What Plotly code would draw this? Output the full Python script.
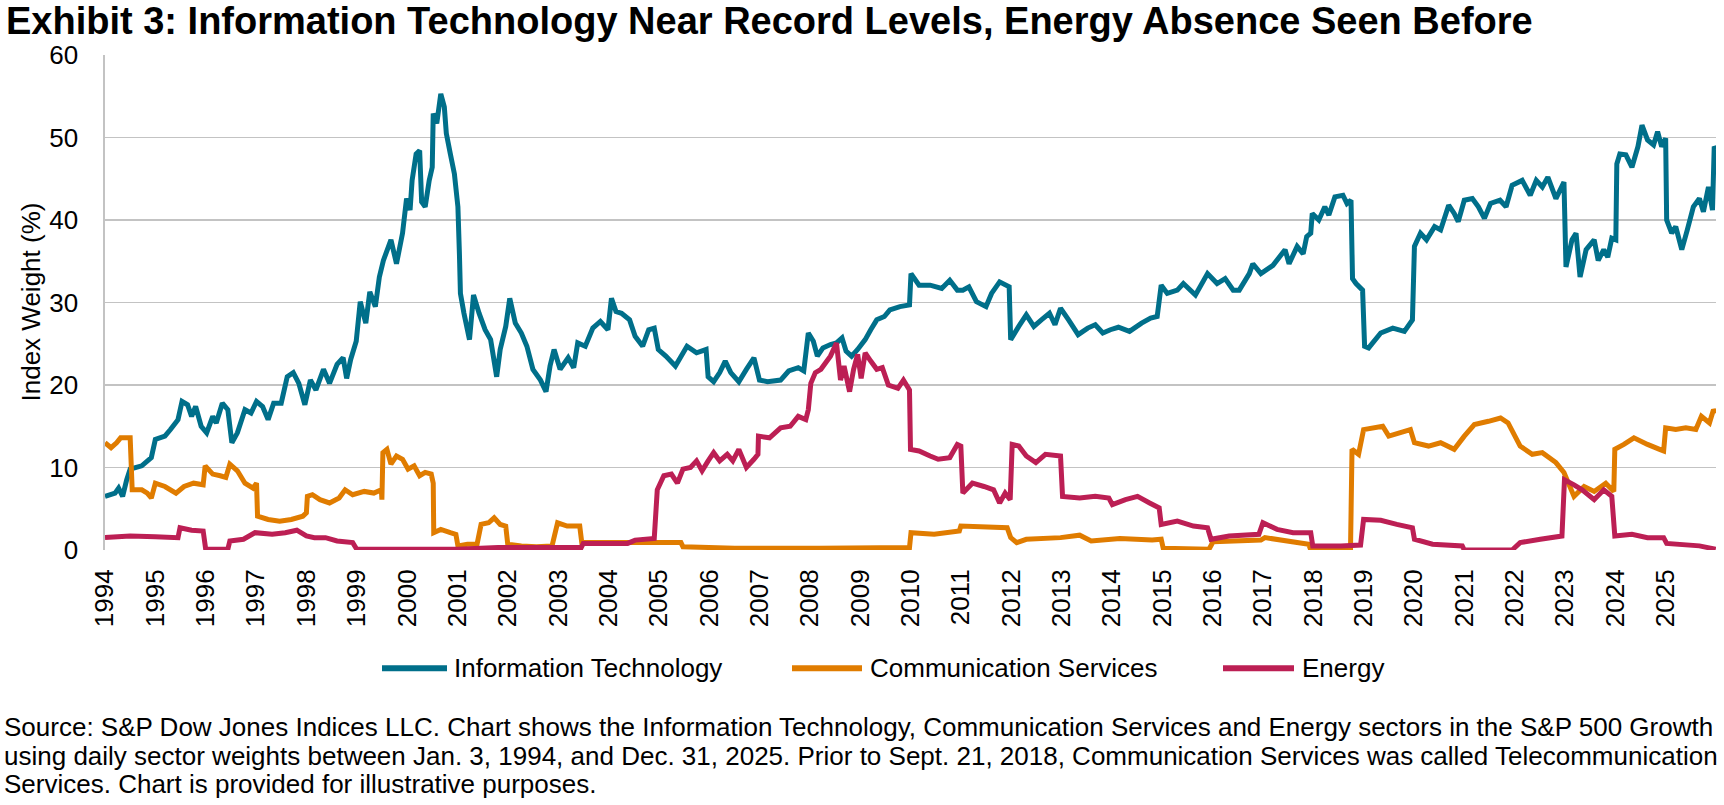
import plotly.graph_objects as go

# ---- data (decimal year, index weight %) ----
it_x = [1994.00, 1994.20, 1994.27, 1994.35, 1994.43, 1994.50, 1994.73, 1994.92, 1995.00, 1995.19,
        1995.30, 1995.45, 1995.53, 1995.64, 1995.72, 1995.80, 1995.91, 1996.02, 1996.14, 1996.21,
        1996.33, 1996.44, 1996.52, 1996.63, 1996.78, 1996.90, 1997.01, 1997.13, 1997.24, 1997.35,
        1997.50, 1997.62, 1997.74, 1997.85, 1997.97, 1998.08, 1998.19, 1998.34, 1998.46, 1998.61,
        1998.73, 1998.80, 1998.88, 1998.99, 1999.07, 1999.18, 1999.26, 1999.37, 1999.45, 1999.53,
        1999.68, 1999.79, 1999.91, 1999.99, 2000.06, 2000.10, 2000.18, 2000.25, 2000.29, 2000.36,
        2000.44, 2000.50, 2000.52, 2000.59, 2000.67, 2000.74, 2000.78, 2000.86, 2000.94, 2001.01,
        2001.04, 2001.06, 2001.13, 2001.24, 2001.32, 2001.43, 2001.55, 2001.66, 2001.78, 2001.85,
        2001.96, 2002.04, 2002.15, 2002.27, 2002.38, 2002.50, 2002.65, 2002.76, 2002.84, 2002.92,
        2003.04, 2003.20, 2003.31, 2003.39, 2003.54, 2003.69, 2003.84, 2003.99, 2004.06, 2004.15,
        2004.26, 2004.42, 2004.53, 2004.68, 2004.80, 2004.91, 2004.99, 2005.14, 2005.33, 2005.56,
        2005.75, 2005.94, 2005.98, 2006.09, 2006.21, 2006.32, 2006.43, 2006.59, 2006.74, 2006.89,
        2007.00, 2007.16, 2007.42, 2007.58, 2007.77, 2007.88, 2007.97, 2008.07, 2008.15, 2008.26,
        2008.41, 2008.53, 2008.64, 2008.72, 2008.83, 2008.95, 2009.10, 2009.21, 2009.33, 2009.48,
        2009.59, 2009.79, 2009.98, 2010.01, 2010.17, 2010.39, 2010.62, 2010.78, 2010.93, 2011.04,
        2011.16, 2011.31, 2011.50, 2011.61, 2011.77, 2011.96, 2011.99, 2012.15, 2012.30, 2012.45,
        2012.60, 2012.76, 2012.87, 2012.98, 2013.14, 2013.33, 2013.52, 2013.67, 2013.82, 2013.97,
        2014.13, 2014.35, 2014.59, 2014.77, 2014.90, 2014.98, 2015.10, 2015.30, 2015.42, 2015.66,
        2015.90, 2016.09, 2016.25, 2016.41, 2016.53, 2016.73, 2016.80, 2016.96, 2017.20, 2017.44,
        2017.52, 2017.68, 2017.80, 2017.87, 2017.95, 2017.98, 2018.11, 2018.23, 2018.31, 2018.43,
        2018.59, 2018.67, 2018.75, 2018.78, 2018.85, 2018.98, 2019.02, 2019.10, 2019.34, 2019.58,
        2019.81, 2019.97, 2020.01, 2020.13, 2020.25, 2020.41, 2020.53, 2020.69, 2020.80, 2020.88,
        2021.00, 2021.16, 2021.28, 2021.40, 2021.52, 2021.71, 2021.83, 2021.95, 2022.15, 2022.31,
        2022.43, 2022.55, 2022.66, 2022.82, 2022.98, 2023.02, 2023.14, 2023.22, 2023.30, 2023.42,
        2023.58, 2023.66, 2023.77, 2023.85, 2023.93, 2024.01, 2024.03, 2024.09, 2024.21, 2024.33,
        2024.45, 2024.53, 2024.64, 2024.76, 2024.84, 2024.92, 2025.00, 2025.02, 2025.12, 2025.20,
        2025.32, 2025.43, 2025.55, 2025.67, 2025.75, 2025.85, 2025.93, 2025.965, 2025.995]
it_y = [6.5, 6.9, 7.5, 6.5, 8.5, 9.8, 10.2, 11.2, 13.4, 13.8,
        14.6, 15.8, 18.0, 17.6, 16.2, 17.4, 15.0, 14.2, 16.2, 15.4,
        17.8, 17.0, 13.0, 14.2, 17.0, 16.6, 18.0, 17.4, 15.8, 17.8,
        17.8, 21.0, 21.5, 20.2, 17.6, 20.6, 19.4, 21.9, 20.2, 22.5,
        23.3, 20.8, 23.1, 25.3, 30.1, 27.5, 31.3, 29.5, 33.1, 35.1,
        37.6, 34.7, 38.4, 42.6, 41.2, 44.8, 48.0, 48.4, 42.2, 41.6,
        44.8, 46.4, 52.9, 51.7, 55.3, 53.7, 50.5, 48.0, 45.6, 41.6,
        35.9, 31.1, 28.7, 25.5, 30.9, 28.7, 26.7, 25.5, 21.0, 24.3,
        27.1, 30.5, 27.5, 26.3, 24.7, 21.9, 20.6, 19.2, 22.3, 24.3,
        21.9, 23.3, 22.1, 25.1, 24.7, 26.9, 27.7, 26.7, 30.5, 28.9,
        28.7, 27.9, 25.9, 24.7, 26.7, 26.9, 24.3, 23.5, 22.3, 24.7,
        23.9, 24.3, 21.0, 20.4, 21.5, 22.9, 21.5, 20.4, 21.9, 23.3,
        20.6, 20.4, 20.6, 21.7, 22.1, 21.7, 26.3, 25.3, 23.5, 24.5,
        24.9, 25.1, 25.7, 24.1, 23.5, 24.3, 25.5, 26.7, 27.9, 28.3,
        29.1, 29.5, 29.7, 33.5, 32.1, 32.1, 31.7, 32.7, 31.5, 31.5,
        31.9, 30.1, 29.5, 31.1, 32.5, 31.9, 25.5, 27.1, 28.5, 27.1,
        27.9, 28.7, 27.3, 29.3, 27.9, 26.1, 26.9, 27.3, 26.3, 26.7,
        27.0, 26.5, 27.5, 28.1, 28.3, 32.1, 31.1, 31.5, 32.3, 30.9,
        33.5, 32.3, 32.9, 31.5, 31.5, 33.5, 34.7, 33.5, 34.5, 36.4,
        34.7, 36.8, 35.9, 38.0, 38.4, 40.8, 40.0, 41.6, 40.6, 42.8,
        43.0, 42.0, 42.4, 32.9, 32.3, 31.5, 24.7, 24.5, 26.3, 26.9,
        26.5, 27.9, 36.8, 38.4, 37.6, 39.2, 38.8, 41.8, 40.8, 39.8,
        42.4, 42.6, 41.6, 40.2, 42.0, 42.4, 41.6, 44.2, 44.8, 43.0,
        44.8, 44.0, 45.2, 42.6, 44.6, 34.3, 37.6, 38.4, 33.1, 36.4,
        37.6, 35.1, 36.4, 35.5, 37.8, 37.6, 46.8, 48.0, 47.9, 46.4,
        48.9, 51.5, 49.7, 49.1, 50.7, 48.9, 49.9, 40.0, 38.4, 39.2,
        36.4, 38.8, 41.6, 42.6, 41.0, 44.0, 41.2, 48.9, 48.6]

cs_x = [1994.00, 1994.12, 1994.23, 1994.31, 1994.50, 1994.54, 1994.73, 1994.84, 1994.92, 1995.00,
        1995.19, 1995.41, 1995.57, 1995.76, 1995.95, 1995.99, 1996.14, 1996.29, 1996.40, 1996.48,
        1996.63, 1996.78, 1996.94, 1997.01, 1997.03, 1997.24, 1997.47, 1997.70, 1997.93, 1998.00,
        1998.02, 1998.12, 1998.27, 1998.46, 1998.65, 1998.77, 1998.92, 1999.15, 1999.34, 1999.49,
        1999.50, 1999.52, 1999.60, 1999.68, 1999.79, 1999.91, 2000.02, 2000.14, 2000.25, 2000.36,
        2000.48, 2000.52, 2000.53, 2000.67, 2000.86, 2000.97, 2001.01, 2001.20, 2001.39, 2001.47,
        2001.62, 2001.73, 2001.85, 2001.96, 2002.00, 2002.27, 2002.57, 2002.88, 2002.99, 2003.18,
        2003.43, 2003.47, 2004.38, 2004.91, 2005.44, 2005.48, 2006.51, 2008.19, 2009.98, 2010.01,
        2010.47, 2010.97, 2011.00, 2011.92, 2011.99, 2012.11, 2012.30, 2012.98, 2013.36, 2013.59,
        2014.16, 2014.80, 2014.98, 2015.02, 2015.93, 2016.01, 2016.96, 2017.04, 2017.91, 2017.95,
        2018.74, 2018.77, 2018.90, 2019.00, 2019.38, 2019.50, 2019.93, 2020.01, 2020.29, 2020.53,
        2020.80, 2021.00, 2021.20, 2021.48, 2021.72, 2021.87, 2022.11, 2022.35, 2022.55, 2022.82,
        2022.98, 2023.18, 2023.38, 2023.58, 2023.81, 2023.97, 2023.99, 2024.17, 2024.37, 2024.64,
        2024.88, 2024.96, 2025.00, 2025.20, 2025.40, 2025.60, 2025.71, 2025.87, 2025.95, 2025.995]
cs_y = [13.0, 12.4, 13.0, 13.6, 13.6, 7.3, 7.3, 6.9, 6.3, 8.1,
        7.7, 6.9, 7.7, 8.1, 7.9, 10.2, 9.2, 9.0, 8.8, 10.4,
        9.6, 8.1, 7.5, 8.1, 4.1, 3.7, 3.5, 3.7, 4.1, 4.5,
        6.5, 6.7, 6.1, 5.7, 6.3, 7.3, 6.7, 7.1, 6.9, 7.3,
        6.1, 11.8, 12.2, 10.4, 11.4, 11.0, 9.8, 10.2, 9.0, 9.4,
        9.2, 8.1, 2.1, 2.5, 2.1, 1.9, 0.5, 0.7, 0.7, 3.1,
        3.3, 3.9, 3.1, 2.9, 0.7, 0.5, 0.4, 0.5, 3.3, 2.9,
        2.9, 0.9, 0.9, 0.9, 0.9, 0.4, 0.2, 0.2, 0.3, 2.1,
        1.9, 2.3, 2.9, 2.7, 1.5, 0.9, 1.3, 1.5, 1.8, 1.1,
        1.4, 1.2, 1.3, 0.2, 0.1, 1.0, 1.2, 1.5, 0.7, 0.0,
        0.0, 12.2, 11.6, 14.6, 15.0, 13.8, 14.6, 13.0, 12.6, 13.0,
        12.2, 13.8, 15.2, 15.6, 16.0, 15.4, 12.6, 11.6, 11.8, 10.6,
        9.4, 6.5, 7.7, 7.1, 8.1, 7.1, 12.2, 12.8, 13.6, 12.8,
        12.2, 12.0, 14.8, 14.6, 14.8, 14.6, 16.2, 15.4, 17.0, 16.6]

en_x = [1994.00, 1994.50, 1995.00, 1995.45, 1995.49, 1995.72, 1995.95, 1996.00, 1996.44, 1996.48,
        1996.75, 1996.98, 1997.32, 1997.58, 1997.81, 1998.00, 1998.16, 1998.38, 1998.61, 1998.92,
        1999.00, 2001.00, 2001.81, 2002.95, 2003.46, 2003.50, 2004.38, 2004.53, 2004.91, 2004.97,
        2005.10, 2005.25, 2005.37, 2005.48, 2005.63, 2005.75, 2005.86, 2005.98, 2006.09, 2006.21,
        2006.36, 2006.47, 2006.59, 2006.74, 2006.89, 2006.97, 2006.98, 2007.20, 2007.42, 2007.61,
        2007.77, 2007.92, 2007.97, 2008.02, 2008.11, 2008.22, 2008.34, 2008.41, 2008.53, 2008.61,
        2008.68, 2008.79, 2008.87, 2008.95, 2009.02, 2009.10, 2009.21, 2009.33, 2009.44, 2009.56,
        2009.75, 2009.86, 2009.98, 2010.00, 2010.17, 2010.39, 2010.55, 2010.78, 2010.93, 2011.00,
        2011.04, 2011.23, 2011.46, 2011.65, 2011.77, 2011.88, 2011.98, 2012.02, 2012.15, 2012.30,
        2012.49, 2012.68, 2012.98, 2013.02, 2013.36, 2013.67, 2013.94, 2014.01, 2014.27, 2014.51,
        2014.75, 2014.94, 2014.98, 2015.30, 2015.62, 2015.90, 2015.97, 2016.33, 2016.92, 2017.00,
        2017.28, 2017.60, 2017.95, 2017.99, 2018.55, 2018.94, 2019.00, 2019.34, 2019.66, 2019.97,
        2020.01, 2020.37, 2020.96, 2021.00, 2021.95, 2022.11, 2022.51, 2022.94, 2022.99, 2023.18,
        2023.34, 2023.58, 2023.77, 2023.93, 2023.99, 2024.33, 2024.64, 2024.96, 2025.02, 2025.67,
        2025.995]
en_y = [1.5, 1.7, 1.6, 1.5, 2.7, 2.4, 2.3, 0.1, 0.1, 1.1,
        1.3, 2.1, 1.9, 2.1, 2.4, 1.7, 1.5, 1.5, 1.1, 0.9,
        0.1, 0.1, 0.3, 0.3, 0.3, 0.8, 0.8, 1.2, 1.4, 7.3,
        9.0, 9.2, 8.1, 9.8, 10.0, 10.8, 9.6, 10.8, 11.8, 10.8,
        11.6, 10.8, 12.2, 10.0, 11.0, 11.6, 13.8, 13.6, 14.8, 15.0,
        16.2, 15.8, 17.0, 20.2, 21.5, 21.9, 22.9, 23.5, 25.1, 20.6,
        22.3, 19.2, 21.9, 23.7, 20.8, 23.9, 22.9, 21.9, 22.1, 20.0,
        19.6, 20.6, 19.4, 12.2, 12.0, 11.4, 11.0, 11.2, 12.8, 12.6,
        6.9, 8.1, 7.7, 7.3, 5.7, 6.9, 6.1, 12.8, 12.6, 11.4,
        10.6, 11.6, 11.4, 6.5, 6.3, 6.5, 6.3, 5.5, 6.1, 6.5,
        5.7, 5.1, 3.1, 3.5, 2.9, 2.7, 1.3, 1.7, 1.9, 3.3,
        2.5, 2.1, 2.1, 0.5, 0.5, 0.6, 3.7, 3.6, 3.1, 2.7,
        1.3, 0.7, 0.5, 0.0, 0.0, 0.9, 1.3, 1.7, 8.5, 7.9,
        7.3, 6.1, 7.3, 6.5, 1.7, 1.9, 1.5, 1.5, 0.8, 0.5,
        0.1]

series_names = ["Information Technology", "Communication Services", "Energy"]
series_colors = ["#006F8A", "#E07C00", "#BC1F54"]
year_ticks = list(range(1994, 2026))
year_labels = [str(y) for y in year_ticks]
y_ticks = [0, 10, 20, 30, 40, 50, 60]

title_text = "Exhibit 3: Information Technology Near Record Levels, Energy Absence Seen Before"
y_title = "Index Weight (%)"
source_lines = [
    "Source: S&P Dow Jones Indices LLC. Chart shows the Information Technology, Communication Services and Energy sectors in the S&P 500 Growth",
    "using daily sector weights between Jan. 3, 1994, and Dec. 31, 2025. Prior to Sept. 21, 2018, Communication Services was called Telecommunication",
    "Services. Chart is provided for illustrative purposes.",
]

FONT = "Liberation Sans, Arial, Helvetica, sans-serif"
FS = 26

fig = go.Figure()
for xs, ys, name, col in zip([it_x, cs_x, en_x], [it_y, cs_y, en_y], series_names, series_colors):
    fig.add_trace(go.Scatter(x=xs, y=ys, mode="lines", name=name, showlegend=False,
                             line=dict(color=col, width=5, simplify=False), hoverinfo="skip"))

W, H = 1724, 805
L, R, T, B = 105, 8, 54.5, 254.5
pw, ph = W - L - R, H - T - B


def px(xpix):
    return (xpix - L) / pw


def py(ypix):
    return (H - B - ypix) / ph


fig.update_layout(
    width=W, height=H,
    margin=dict(l=L, r=R, t=T, b=B, pad=0),
    paper_bgcolor="white", plot_bgcolor="white",
    font=dict(family=FONT, size=FS, color="black"),
    showlegend=False,
)

fig.update_xaxes(range=[1994.0, 2026.0], tickmode="array", tickvals=year_ticks, ticktext=year_labels,
                 tickangle=-90, showgrid=False, zeroline=False, showline=False,
                 ticks="outside", ticklen=8, tickcolor="rgba(0,0,0,0)",
                 tickfont=dict(family=FONT, size=FS, color="black"))
fig.update_yaxes(range=[0, 60], tickmode="array", tickvals=y_ticks,
                 showgrid=True, gridcolor="#C3C3C3", gridwidth=1.6, zeroline=False,
                 showline=True, linecolor="#C3C3C3", linewidth=1.6,
                 ticks="outside", ticklen=20, tickcolor="rgba(0,0,0,0)",
                 tickfont=dict(family=FONT, size=FS, color="black"))

# y-axis title
fig.add_annotation(text=y_title, xref="paper", yref="paper", x=px(30), y=py(302.5),
                   xanchor="center", yanchor="middle", textangle=-90, showarrow=False,
                   font=dict(family=FONT, size=FS, color="black"))

# title
fig.add_annotation(text="<b>" + title_text + "</b>", xref="paper", yref="paper",
                   x=px(4), y=py(20), xanchor="left", yanchor="middle", showarrow=False,
                   font=dict(family=FONT, size=38, color="black"))

# legend (line sample + label), centred under the plot
legend_line_x = [(382, 447), (792, 862), (1223, 1294)]
legend_text_x = [452, 868, 1300]
leg_y = 669
for (x0, x1), tx, name, col in zip(legend_line_x, legend_text_x, series_names, series_colors):
    fig.add_shape(type="line", xref="paper", yref="paper", x0=px(x0), x1=px(x1),
                  y0=py(leg_y), y1=py(leg_y), line=dict(color=col, width=6))
    fig.add_annotation(text=name, xref="paper", yref="paper", x=px(tx), y=py(leg_y),
                       xanchor="left", yanchor="middle", showarrow=False,
                       font=dict(family=FONT, size=FS, color="black"))

# source note
for i, line in enumerate(source_lines):
    fig.add_annotation(text=line, xref="paper", yref="paper", x=px(2),
                       y=py(728 + 28.7 * i), xanchor="left", yanchor="middle",
                       showarrow=False, align="left",
                       font=dict(family=FONT, size=26, color="black"))

# keep the figure flush with the page corner (no default body margin / scrollbars)
fig.write_html("out.html", config={"displayModeBar": False, "staticPlot": True},
               post_script="document.body.style.margin='0';document.body.style.overflow='hidden';")
